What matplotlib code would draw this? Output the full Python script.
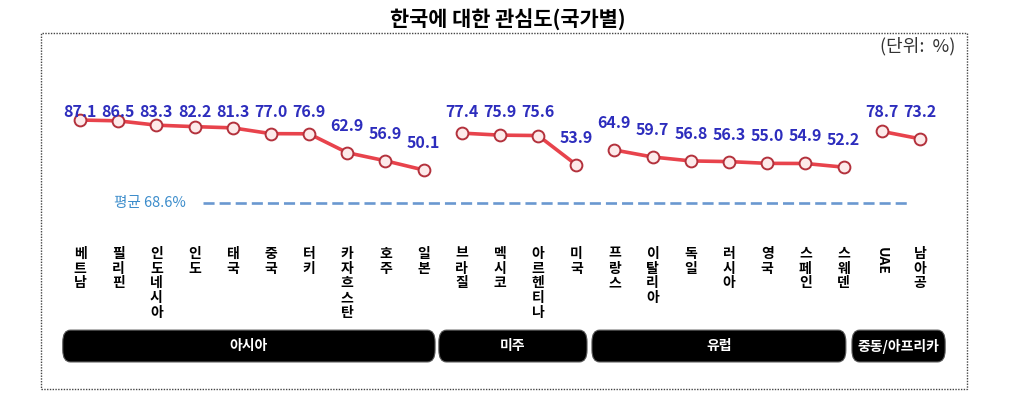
import matplotlib
matplotlib.use("Agg")
import matplotlib.pyplot as plt
from matplotlib.patches import FancyBboxPatch, Rectangle
import matplotlib.transforms as mtransforms

plt.rcParams['font.family'] = ['Noto Sans CJK KR', 'DejaVu Sans']

# data
countries = ['베트남', '필리핀', '인도네시아', '인도', '태국', '중국', '터키', '카자흐스탄', '호주', '일본',
             '브라질', '멕시코', '아르헨티나', '미국',
             '프랑스', '이탈리아', '독일', '러시아', '영국', '스페인', '스웨덴',
             'UAE', '남아공']
values = [87.1, 86.5, 83.3, 82.2, 81.3, 77.0, 76.9, 62.9, 56.9, 50.1,
          77.4, 75.9, 75.6, 53.9,
          64.9, 59.7, 56.8, 56.3, 55.0, 54.9, 52.2,
          78.7, 73.2]
regions = ['아시아', '미주', '유럽', '중동/아프리카']
region_sizes = [10, 4, 7, 2]
average = 68.6

title = '한국에 대한 관심도(국가별)'
unit = '(단위:  %)'

# layout (box edges in x-units, relative to first/last index of each region)
box_pad = [(-0.45, 0.3), (-0.6, 0.28), (-0.59, 0.06), (-0.78, 0.66)]

fig = plt.figure(figsize=(10.15, 3.93), dpi=100)
ax = fig.add_axes([0, 0, 1, 1])
ax.set_xlim(-2.095, 24.49)
ax.set_ylim(-115.1, 176.0)
ax.axis('off')

trans = mtransforms.blended_transform_factory(ax.transData, ax.transAxes)

# lines per region
start = 0
for size in region_sizes:
    xs = list(range(start, start + size))
    ys = values[start:start + size]
    ax.plot(xs, ys, color='#e8434c', lw=2.6, solid_capstyle='round', zorder=3)
    ax.plot(xs, ys, 'o', ms=8.5, mfc='#fdeaea', mec='#b3313c', mew=1.4, zorder=4)
    start += size

# value labels
for i, v in enumerate(values):
    ax.text(i, min(v + 20, 92.8), f'{v:.1f}', ha='center', va='center',
            fontsize=11.5, fontweight='bold', color='#2d2dbd', zorder=5)

# average line
ax.text(0.9, 0.483, f'평균 {average}%', transform=trans, ha='left', va='center',
        fontsize=10.5, color='#3b8ccb')
ax.plot([3.21, 21.65], [0.483, 0.483], transform=trans, color='#6a98d0',
        lw=1.9, ls=(0, (4.2, 1.9)))

# category labels
for i, name in enumerate(countries):
    if name.isascii():
        ax.text(i, 0.372, name, transform=trans, ha='center', va='top', rotation=270,
                fontsize=10, fontweight='bold')
    else:
        ax.text(i, 0.372, '\n'.join(name), transform=trans, ha='center', va='top',
                fontsize=10, fontweight='bold', linespacing=1.07)

# region boxes
start = 0
for name, size, (lp, rp) in zip(regions, region_sizes, box_pad):
    x0 = start + lp
    x1 = start + size - 1 + rp
    box = FancyBboxPatch((x0, 0.079), x1 - x0, 0.081, transform=trans,
                         boxstyle='round,pad=0,rounding_size=0.2',
                         fc='black', ec='#555555', lw=0.8, mutation_aspect=0.15)
    ax.add_patch(box)
    ax.text((x0 + x1) / 2, 0.1195, name, transform=trans, ha='center', va='center',
            color='white', fontsize=10, fontweight='bold')
    start += size

# dotted frame
frame = Rectangle((0.0404, 0.0102), 0.9123, 0.9058, transform=fig.transFigure,
                  fill=False, ec='#444444', lw=1.0, ls=(0, (1, 1)))
fig.patches.append(frame)

fig.text(0.5, 0.952, title, ha='center', va='center', fontsize=15, fontweight='bold')
fig.text(0.941, 0.883, unit, ha='right', va='center', fontsize=13, color='#333333')

fig.savefig('out.png', dpi=100)
